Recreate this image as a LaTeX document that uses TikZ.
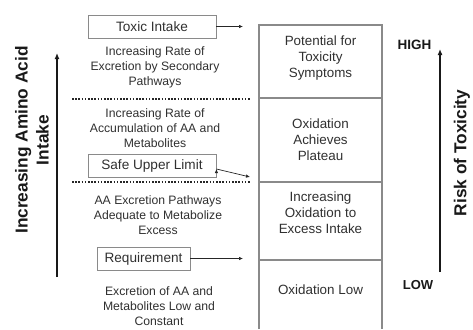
\documentclass[tikz,border=0pt]{standalone}
\usepackage{fontspec}
\setmainfont{Liberation Sans}
\usetikzlibrary{arrows.meta}
\definecolor{txt}{HTML}{303030}
\definecolor{frame}{HTML}{8A8A8A}
\tikzset{
  desc/.style={align=center, text=txt, font=\fontsize{12.2}{15}\selectfont, inner sep=0pt},
  coltext/.style={align=center, text=txt, font=\fontsize{13.4}{16}\selectfont, inner sep=0pt},
  labelbox/.style={draw=frame, line width=0.9pt, text=txt, font=\fontsize{13.6}{16}\selectfont, minimum height=23pt, inner sep=0pt},
  conn/.style={-{Latex[length=4pt,width=3.5pt]}, line width=0.7pt, draw=black!85},
  bigarrow/.style={-{Latex[length=6pt,width=5pt]}, line width=2pt, draw=black!90},
  axislabel/.style={font=\bfseries\fontsize{17.3}{21}\selectfont, align=center, text=black!90, inner sep=0pt},
  dots/.style={line width=1.6pt, dash pattern=on 1.6pt off 1.6pt, draw=black!85},
  colline/.style={draw=frame, line width=1.1pt}
}
\begin{document}
\begin{tikzpicture}[x=1pt,y=-1pt]
\useasboundingbox (0,0) rectangle (473,329);
% column
\draw[colline] (259,329) -- (259,25) -- (382,25) -- (382,329);
\draw[colline] (259,98) -- (382,98);
\draw[colline] (259,182) -- (382,182);
\draw[colline] (259,260) -- (382,260);
\node[coltext] (c1) at (320.5,58) {Potential for\\Toxicity\\Symptoms};
\node[coltext] (c2) at (320.5,140) {Oxidation\\Achieves\\Plateau};
\node[coltext] (c3) at (320.5,213) {Increasing\\Oxidation to\\Excess Intake};
\node[coltext] (c4) at (320.5,290) {Oxidation Low};
% left boxes
\node[labelbox, minimum width=128pt] (tox) at (152,26.5) {Toxic Intake};
\node[labelbox, minimum width=128pt] (sul) at (152,166) {Safe Upper Limit};
\node[labelbox, minimum width=93pt] (req) at (143.5,258.5) {Requirement};
\coordinate (toxend) at (243,26.5);
\coordinate (sulend) at (250,177);
\coordinate (reqend) at (243,258.5);
\draw[conn] (tox.east) -- (toxend);
\draw[conn] (sul.east) ++(0,3) coordinate (sulstart);
\draw[conn] (sulstart) -- (sulend);
\draw[conn] (req.east) -- (reqend);
% descriptions
\node[desc] (d1) at (155,67) {Increasing Rate of\\Excretion by Secondary\\Pathways};
\node[desc] (d2) at (155,128) {Increasing Rate of\\Accumulation of AA and\\Metabolites};
\node[desc] (d3) at (158,215) {AA Excretion Pathways\\Adequate to Metabolize\\Excess};
\node[desc] (d4) at (159,306.5) {Excretion of AA and\\Metabolites Low and\\Constant};
% dotted lines
\coordinate (dl1a) at (72,99); \coordinate (dl1b) at (251,99);
\coordinate (dl2a) at (72,182); \coordinate (dl2b) at (251,182);
\draw[dots] (dl1a) -- (dl1b);
\draw[dots] (dl2a) -- (dl2b);
% left axis
\coordinate (la0) at (57,277); \coordinate (la1) at (57,53);
\draw[bigarrow] (la0) -- (la1);
\node[axislabel, rotate=90] (ll) at (32,140) {Increasing Amino Acid\\Intake};
% right axis
\coordinate (ra0) at (440,272); \coordinate (ra1) at (440,49);
\draw[bigarrow] (ra0) -- (ra1);
\node[font=\bfseries\fontsize{13.5}{16}\selectfont, text=black!90, inner sep=0pt] (high) at (414.5,45) {HIGH};
\node[font=\bfseries\fontsize{13}{16}\selectfont, text=black!90, inner sep=0pt] (low) at (418,285) {LOW};
\node[axislabel, rotate=90] (rl) at (462,153) {Risk of Toxicity};
\end{tikzpicture}
\end{document}
